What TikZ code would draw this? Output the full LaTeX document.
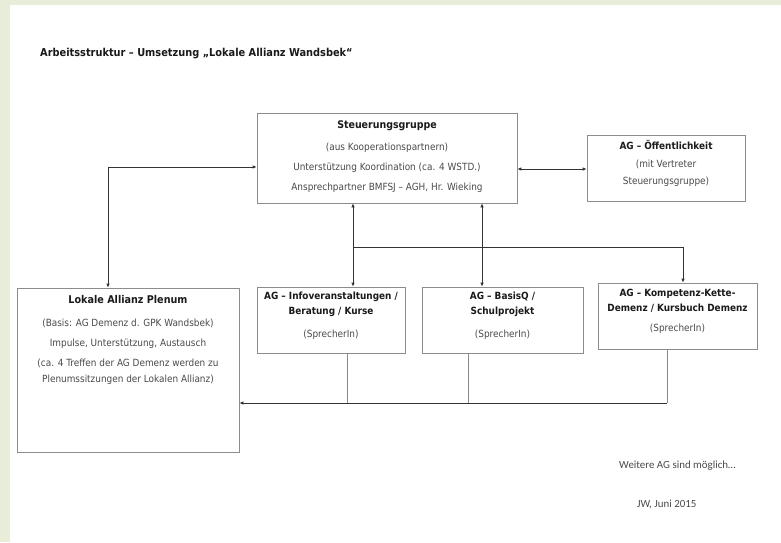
\documentclass[tikz,border=0pt]{standalone}
\usepackage{fontspec}
\setmainfont{DejaVu Sans Condensed}
\newfontfamily\carlitofont{Carlito}
\usetikzlibrary{arrows.meta}
\definecolor{bggreen}{HTML}{E8EDD9}
\definecolor{boxgray}{HTML}{8C8C8C}
\definecolor{bodytext}{HTML}{4A4A4A}
\definecolor{headtext}{HTML}{1A1A1A}
\definecolor{linedark}{HTML}{333333}
\definecolor{linegray}{HTML}{8A8A8A}
\tikzset{
  box/.style={draw=boxgray, line width=0.8pt, rectangle, inner sep=0pt},
  head/.style={anchor=base, text=headtext, font=\fontsize{9.9}{11}\selectfont\bfseries, inner sep=0pt},
  body/.style={anchor=base, text=bodytext, font=\fontsize{9.9}{11}\selectfont, inner sep=0pt},
  arr/.style={draw=linedark, line width=0.9pt, -{Latex[length=4pt,width=3.6pt]}},
  arrtwo/.style={draw=linedark, line width=0.9pt, {Latex[length=4pt,width=3.6pt]}-{Latex[length=4pt,width=3.6pt]}},
  plain/.style={draw=linegray, line width=0.8pt},
  plaindark/.style={draw=linedark, line width=0.8pt}
}
\begin{document}
\begin{tikzpicture}[x=1pt,y=-1pt]
\fill[bggreen] (0,0) rectangle (781,542);
\fill[white] (10,5) rectangle (781,542);
\useasboundingbox (0,0) rectangle (781,542);

\node[anchor=base west, inner sep=0pt, text=headtext, font=\fontsize{10.9}{12}\selectfont\bfseries] (title) at (40,56) {Arbeitsstruktur – Umsetzung „Lokale Allianz Wandsbek“};

% boxes
\node[box, minimum width=260pt, minimum height=90pt] (steu) at (387,158) {};
\node[box, minimum width=158pt, minimum height=66pt] (oeff) at (666,168) {};
\node[box, minimum width=222pt, minimum height=164pt] (plen) at (128,370) {};
\node[box, minimum width=148pt, minimum height=66pt] (info) at (331,320) {};
\node[box, minimum width=161pt, minimum height=66pt] (basq) at (502.5,320) {};
\node[box, minimum width=159pt, minimum height=66pt] (komp) at (677.5,316) {};

% texts
\node[head, font=\fontsize{10.5}{12}\selectfont\bfseries] (s1) at (387,128) {Steuerungsgruppe};
\node[body] (s2) at (387,150) {(aus Kooperationspartnern)};
\node[body] (s3) at (387,170) {Unterstützung Koordination (ca. 4 WSTD.)};
\node[body] (s4) at (387,190) {Ansprechpartner BMFSJ – AGH, Hr. Wieking};

\node[head] (o1) at (666,149) {AG – Öffentlichkeit};
\node[body] (o2) at (666,167) {(mit Vertreter};
\node[body] (o3) at (666,184) {Steuerungsgruppe)};

\node[head, font=\fontsize{10.7}{12}\selectfont\bfseries] (p1) at (128,303) {Lokale Allianz Plenum};
\node[body] (p2) at (128,326) {(Basis: AG Demenz d. GPK Wandsbek)};
\node[body] (p3) at (128,346) {Impulse, Unterstützung, Austausch};
\node[body] (p4) at (128,366) {(ca. 4 Treffen der AG Demenz werden zu};
\node[body] (p5) at (128,382) {Plenumssitzungen der Lokalen Allianz)};

\node[head] (i1) at (331,299) {AG – Infoveranstaltungen /};
\node[head] (i2) at (331,314) {Beratung / Kurse};
\node[body] (i3) at (331,337) {(SprecherIn)};

\node[head] (b1t) at (502.5,299) {AG – BasisQ /};
\node[head] (b2t) at (502.5,314) {Schulprojekt};
\node[body] (b3t) at (502.5,337) {(SprecherIn)};

\node[head] (k1) at (677.5,296) {AG – Kompetenz-Kette-};
\node[head] (k2) at (677.5,311) {Demenz / Kursbuch Demenz};
\node[body] (k3) at (677.5,331) {(SprecherIn)};

\node[anchor=base west, inner sep=0pt, text=bodytext, font=\carlitofont\fontsize{10.9}{12}\selectfont] (weit) at (619,468) {Weitere AG sind möglich…};
\node[anchor=base west, inner sep=0pt, text=bodytext, font=\carlitofont\fontsize{10.9}{12}\selectfont] (jw) at (637,507) {JW, Juni 2015};

% junction coordinates
\coordinate (c1) at (108,167);
\coordinate (d1) at (0,169);
\coordinate (j1) at (353,247);
\coordinate (j2) at (482,247);
\coordinate (j3) at (683,247);
\coordinate (q1) at (347,403);
\coordinate (q2) at (468,403);
\coordinate (q3) at (667,403);

% connectors
\draw[arr] (c1) -- (c1 -| steu.west);
\draw[arr] (c1) -- (c1 |- plen.north);
\draw[arrtwo] (d1 -| steu.east) -- (d1 -| oeff.west);
\draw[arrtwo] (j1 |- steu.south) -- (j1 |- info.north);
\draw[arrtwo] (j2 |- steu.south) -- (j2 |- basq.north);
\draw[plaindark] (j1) -- (j3);
\draw[arr] (j3) -- (j3 |- komp.north);
\draw[plain] (q1 |- info.south) -- (q1);
\draw[plain] (q2 |- basq.south) -- (q2);
\draw[plain] (q3 |- komp.south) -- (q3);
\draw[arr] (q3) -- (q3 -| plen.east);
\end{tikzpicture}
\end{document}
